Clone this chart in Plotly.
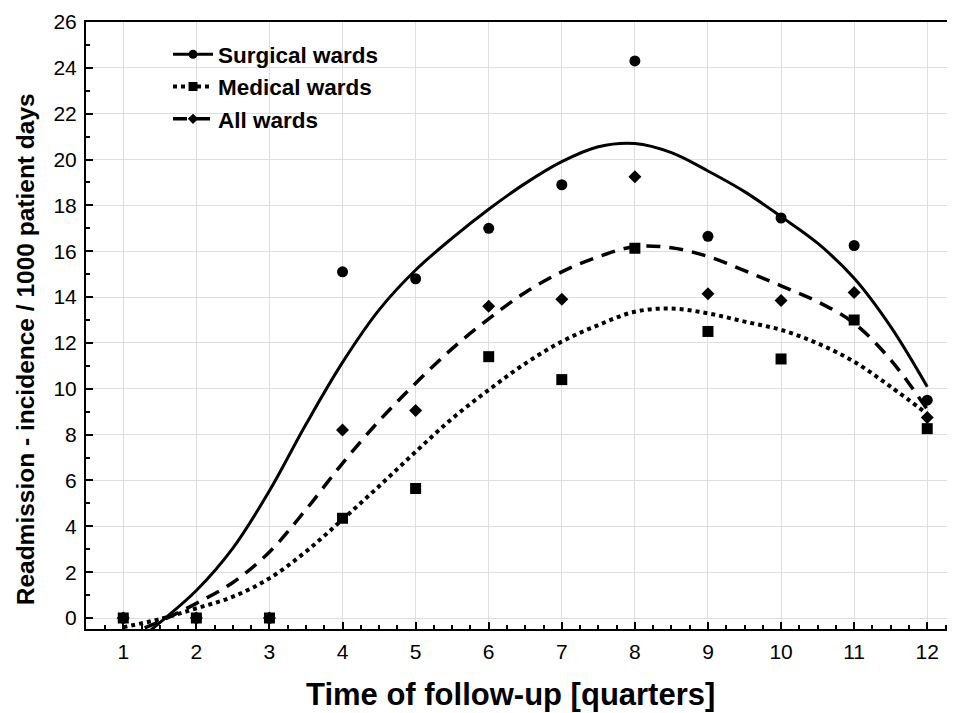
import plotly.graph_objects as go

# Observed data points (quarters 1..12)
quarters = [1, 2, 3, 4, 5, 6, 7, 8, 9, 10, 11, 12]
surgical_pts = [0, 0, 0, 15.1, 14.8, 17.0, 18.9, 24.3, 16.65, 17.45, 16.25, 9.5]
medical_pts = [0, 0, 0, 4.35, 5.65, 11.4, 10.4, 16.13, 12.5, 11.3, 13.0, 8.26]
all_pts = [0, 0, 0, 8.2, 9.05, 13.6, 13.9, 19.25, 14.15, 13.85, 14.2, 8.75]

# Smoothed fit curves
curve_x = [1, 1.5, 2, 2.5, 3, 3.5, 4, 4.5, 5, 5.5, 6, 6.5, 7, 7.5, 8, 8.5, 9,
           9.5, 10, 10.5, 11, 11.5, 12]
surgical_fit = [-1.5, -0.2, 1.2, 3.05, 5.55, 8.45, 11.15, 13.44, 15.18, 16.57,
                17.83, 18.96, 19.91, 20.56, 20.7, 20.3, 19.5, 18.6, 17.51,
                16.35, 14.82, 12.71, 10.09]
medical_fit = [-0.4, -0.05, 0.42, 0.93, 1.73, 2.9, 4.3, 5.75, 7.25, 8.7, 9.95,
               11.1, 12.06, 12.78, 13.36, 13.5, 13.29, 12.93, 12.57, 11.98,
               11.18, 10.09, 8.9]
all_fit = [-0.8, -0.15, 0.64, 1.55, 2.88, 4.73, 6.75, 8.6, 10.24, 11.75, 13.05,
           14.2, 15.1, 15.76, 16.2, 16.15, 15.77, 15.15, 14.49, 13.8, 12.86,
           11.26, 9.1]

x_ticks = list(range(1, 13))
y_ticks = list(range(0, 27, 2))

FONT = "Liberation Sans, Arial, sans-serif"
BLACK = "#000000"

fig = go.Figure()

series = [
    ("Surgical wards", surgical_fit, surgical_pts, "solid", 3, "circle", 11),
    ("Medical wards", medical_fit, medical_pts, "4px,4px", 4, "square", 11),
    ("All wards", all_fit, all_pts, "14px,9px", 3.5, "diamond", 10),
]

for name, fit, pts, dash, lw, sym, ms in series:
    fig.add_trace(go.Scatter(
        x=curve_x, y=fit, mode="lines", showlegend=False,
        line=dict(color=BLACK, width=lw, dash=dash, shape="spline", smoothing=1.0),
        hoverinfo="skip"))
    fig.add_trace(go.Scatter(
        x=quarters, y=pts, mode="markers", showlegend=False,
        marker=dict(color=BLACK, symbol=sym, size=ms), name=name))
    # legend entry
    fig.add_trace(go.Scatter(
        x=[None], y=[None], mode="lines+markers", name=name,
        line=dict(color=BLACK, width=lw, dash=dash),
        marker=dict(color=BLACK, symbol=sym, size=ms - 2)))

fig.update_layout(
    width=947, height=705,
    margin=dict(l=78, r=0, t=14, b=84),
    paper_bgcolor="white", plot_bgcolor="white",
    font=dict(family=FONT, color=BLACK, size=21),
    legend=dict(x=0.0944, y=0.9815, xanchor="left", yanchor="top",
                bgcolor="rgba(0,0,0,0)", borderwidth=0,
                font=dict(size=22.5, family=FONT, weight="bold"),
                tracegroupgap=0, itemwidth=40),
    xaxis=dict(range=[0.49, 12.38], tickvals=x_ticks, ticktext=[str(v) for v in x_ticks],
               showgrid=True, gridcolor="#dedede", gridwidth=1,
               showline=True, linecolor=BLACK, linewidth=2, mirror=True,
               ticks="inside", ticklen=7, tickwidth=1.5, tickcolor=BLACK,
               ticklabelstandoff=3,
               minor=dict(dtick=0.25, tick0=0, ticks="inside", ticklen=4,
                          tickcolor=BLACK, showgrid=False),
               zeroline=False, tickfont=dict(size=21)),
    yaxis=dict(range=[-0.48, 26], tickvals=y_ticks,
               showgrid=True, gridcolor="#dedede", gridwidth=1,
               showline=True, linecolor=BLACK, linewidth=2,
               ticks="inside", ticklen=7, tickwidth=1.5, tickcolor=BLACK,
               ticklabelstandoff=3,
               minor=dict(dtick=1, tick0=0, ticks="inside", ticklen=4,
                          tickcolor=BLACK, showgrid=False),
               zeroline=False, tickfont=dict(size=21)),
    annotations=[
        dict(text="<b>Time of follow-up [quarters]</b>", xref="paper", yref="paper",
             x=0.488, y=-0.1087, xanchor="center", yanchor="middle", showarrow=False,
             font=dict(size=31, family=FONT, color=BLACK)),
        dict(text="<b>Readmission - incidence / 1000 patient days</b>", xref="paper",
             yref="paper", x=-0.0696, y=0.46, xanchor="center", yanchor="middle",
             showarrow=False, textangle=-90,
             font=dict(size=24.5, family=FONT, color=BLACK)),
    ],
)

fig.write_html("out.html")
